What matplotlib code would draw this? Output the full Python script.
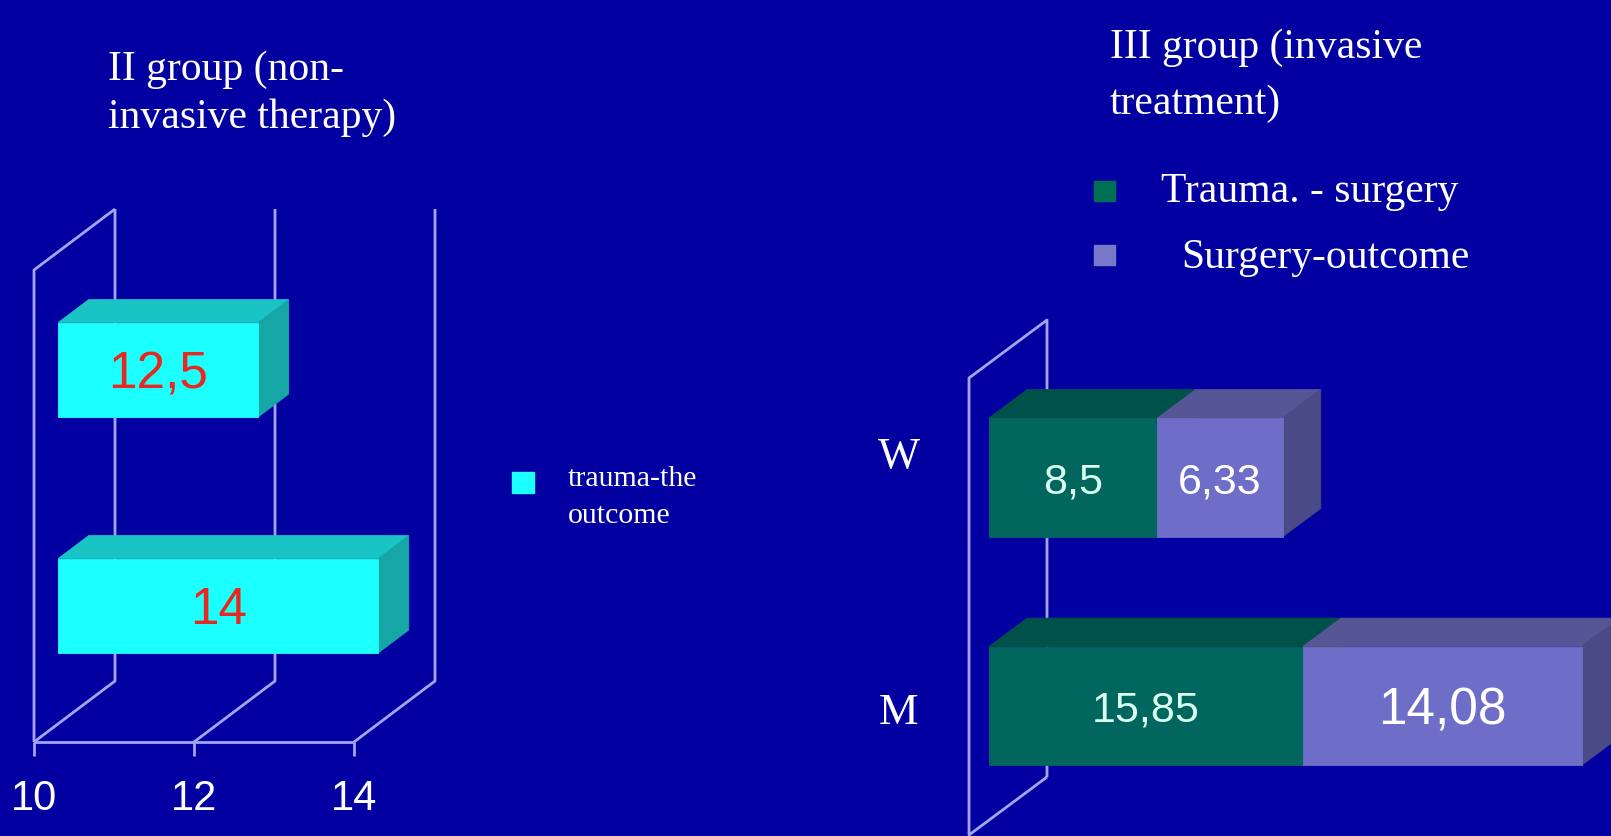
import matplotlib.pyplot as plt
from matplotlib.patches import Polygon
from matplotlib.transforms import offset_copy

W, H = 1611, 836
BG = '#0300a2'
GRID = '#a4a4f4'
SERIF = 'Liberation Serif'
SANS = 'Liberation Sans'

# II group (non-invasive therapy): days from trauma to outcome, top bar first
left_values = [12.5, 14]
left_base = 10
left_ticks = [10, 12, 14]
left_title = ['II group (non-', 'invasive therapy)']
left_legend = ['trauma-the', 'outcome']

# III group (invasive treatment): stacked by sex, top bar first
right_cats = ['W', 'M']
trauma_surgery = [8.5, 15.85]
surgery_outcome = [6.33, 14.08]
right_title = ['III group (invasive', 'treatment)']
right_legend = ['Trauma. - surgery', 'Surgery-outcome']

CYAN = ('#1cffff', '#1bc4c4', '#16a6a6')      # front, top, side
GREEN = ('#00665e', '#00514a', '#00453f')
LAVENDER = ('#6e6ec8', '#565696', '#4a4a86')


def fmt(v):
    return f'{v:g}'.replace('.', ',')


def add_axes_px(fig, x0, y0, x1, y1):
    # pixel box measured from the top-left corner of the figure
    ax = fig.add_axes([x0 / W, 1 - y1 / H, (x1 - x0) / W, (y1 - y0) / H])
    ax.set_axis_off()
    return ax


def proj(x, y, d, depth):
    return x + d * depth[0], y + d * depth[1]


def line3d(ax, pts, depth, **kw):
    xy = [proj(x, y, d, depth) for x, y, d in pts]
    ax.plot([p[0] for p in xy], [p[1] for p in xy], color=GRID, lw=2,
            solid_capstyle='butt', clip_on=False, **kw)


def face(ax, pts, depth, color, z):
    xy = [proj(x, y, d, depth) for x, y, d in pts]
    ax.add_patch(Polygon(xy, closed=True, facecolor=color, edgecolor=color,
                         lw=0.6, zorder=z, clip_on=False))


def box(ax, x0, x1, yc, h, d0, d1, depth, colors, z):
    y0, y1 = yc - h / 2, yc + h / 2
    front, top, side = colors
    face(ax, [(x0, y1, d0), (x1, y1, d0), (x1, y1, d1), (x0, y1, d1)], depth, top, z)
    face(ax, [(x1, y0, d0), (x1, y1, d0), (x1, y1, d1), (x1, y0, d1)], depth, side, z)
    face(ax, [(x0, y0, d0), (x1, y0, d0), (x1, y1, d0), (x0, y1, d0)], depth, front, z + 0.1)


def num_text(ax, x, y, s, **kw):
    # digits sit a little lower than the box centre of the glyphs + comma
    tr = offset_copy(ax.transData, fig=ax.figure, y=-3.6, units='points')
    ax.text(x, y, s, ha='center', va='center', family=SANS, transform=tr, **kw)


fig = plt.figure(figsize=(W / 100, H / 100), dpi=100, facecolor=BG)

# ---- left chart -------------------------------------------------------
axl = add_axes_px(fig, 0, 150, 560, 836)
axl.set_xlim(left_base - 34 / 80, left_base + 526 / 80)
axl.set_ylim(-94 / 236, 592 / 236)
dl = (81 / 80, 61 / 236)
n = len(left_values)

# back wall gridlines and floor
for t in left_ticks:
    line3d(axl, [(t, 0, 0), (t, 0, 1), (t, n, 1)], dl, zorder=1)
    line3d(axl, [(t, 0, 0), (t, -0.06, 0)], dl, zorder=1)
    num_text(axl, t, -0.22, str(t), color='white', fontsize=30)
line3d(axl, [(left_ticks[0], 0, 0), (left_ticks[-1], 0, 0)], dl, zorder=1)
line3d(axl, [(left_base, 0, 0), (left_base, n, 0), (left_base, n, 1)], dl, zorder=1)

for i, v in enumerate(left_values):
    yc = n - 1 - i + 0.5
    box(axl, left_base, v, yc, 0.4, 0.30, 0.675, dl, CYAN, 3 + i)
    cx, cy = proj((left_base + v) / 2, yc, 0.30, dl)
    num_text(axl, cx, cy, fmt(v), color='#e8281e', fontsize=37, zorder=10)

# ---- right chart ------------------------------------------------------
axr = add_axes_px(fig, 860, 300, 1611, 836)
axr.set_xlim(-109 / 19.8, 642 / 19.8)
axr.set_ylim(-1 / 228.5, 535 / 228.5)
dr = (78 / 19.8, 58 / 228.5)
n = len(right_cats)

line3d(axr, [(0, 0, 1), (0, 0, 0), (0, n, 0), (0, n, 1), (0, 0, 1)], dr, zorder=1)

cat_label_y = [1.655, 0.535]
value_sizes = [[31, 31], [31, 37]]
for i, cat in enumerate(right_cats):
    yc = n - 1 - i + 0.5
    a, b = trauma_surgery[i], surgery_outcome[i]
    box(axr, 0, a, yc, 0.52, 0.255, 0.745, dr, GREEN, 3)
    box(axr, a, a + b, yc, 0.52, 0.255, 0.745, dr, LAVENDER, 4)
    for (x0, x1), col, fs in zip([(0, a), (a, a + b)], ['#d8fff0', 'white'],
                                 value_sizes[i]):
        cx, cy = proj((x0 + x1) / 2, yc, 0.255, dr)
        num_text(axr, cx, cy, fmt(x1 - x0), color=col, fontsize=fs, zorder=10)
    axr.text(-3.55, cat_label_y[i], cat, ha='center', va='center',
             color='white', fontsize=32, family=SERIF)

# ---- titles and legends ---------------------------------------------
for k, s in enumerate(left_title):
    fig.text(108 / W, 1 - (80 + 48 * k) / H, s, color='white', fontsize=30,
             family=SERIF, va='baseline')
for k, s in enumerate(right_title):
    fig.text(1110 / W, 1 - (58 + 56 * k) / H, s, color='white', fontsize=30,
             family=SERIF, va='baseline')

fig.patches.append(plt.Rectangle((512 / W, 1 - 493 / H), 22 / W, 21 / H,
                                 transform=fig.transFigure, color=CYAN[0]))
for k, s in enumerate(left_legend):
    fig.text(568 / W, 1 - (486 + 37 * k) / H, s, color='white', fontsize=21.5,
             family=SERIF, va='baseline')

for k, (s, col, tx) in enumerate(zip(right_legend, ['#007052', '#7878c8'],
                                     [1161, 1181])):
    top = 181 + 64 * k
    fig.patches.append(plt.Rectangle((1094 / W, 1 - (top + 20) / H), 21 / W,
                                     20 / H, transform=fig.transFigure,
                                     color=col))
    fig.text(tx / W, 1 - (202 + 66 * k) / H, s, color='white', fontsize=30,
             family=SERIF, va='baseline')

fig.savefig('out.png', dpi=100, facecolor=BG)
